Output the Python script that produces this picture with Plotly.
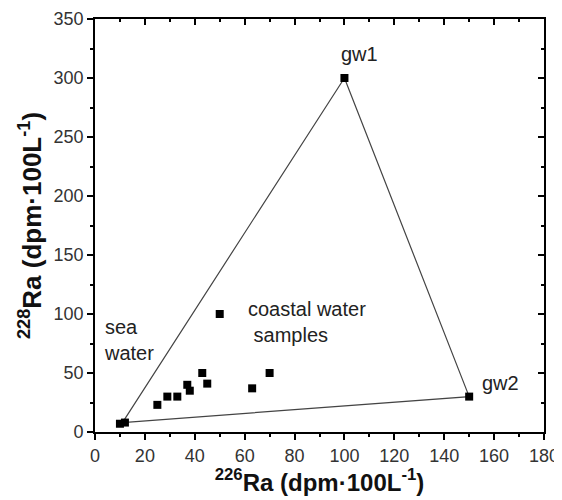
import plotly.graph_objects as go

# coastal water samples
sample_ra226 = [25, 29, 33, 37, 38, 43, 45, 50, 63, 70]
sample_ra228 = [23, 30, 30, 40, 35, 50, 41, 100, 37, 50]

# end-members
end_names = ["sea water", "sea water", "gw1", "gw2"]
end_ra226 = [10, 12, 100, 150]
end_ra228 = [7, 8, 300, 30]

# mixing triangle vertices (sea water -> gw1 -> gw2 -> sea water)
tri_ra226 = [11, 100, 150, 11]
tri_ra228 = [8, 300, 30, 8]

x_ticks = list(range(0, 181, 20))
y_ticks = list(range(0, 351, 50))

fig = go.Figure()

fig.add_trace(go.Scatter(x=tri_ra226, y=tri_ra228, mode="lines",
                         line=dict(color="#444444", width=1.2),
                         showlegend=False, hoverinfo="skip"))
fig.add_trace(go.Scatter(x=end_ra226, y=end_ra228, mode="markers",
                         marker=dict(symbol="square", size=8, color="black"),
                         showlegend=False, text=end_names))
fig.add_trace(go.Scatter(x=sample_ra226, y=sample_ra228, mode="markers",
                         marker=dict(symbol="square", size=8, color="black"),
                         showlegend=False))
# invisible trace to activate mirrored top/right axes
fig.add_trace(go.Scatter(x=end_ra226, y=end_ra228, mode="markers",
                         marker=dict(opacity=0), xaxis="x2", yaxis="y2",
                         showlegend=False, hoverinfo="skip"))

font_fam = "Liberation Sans, Arial, sans-serif"
ann_font = dict(family=font_fam, size=20, color="#222222")

fig.add_annotation(x=100, y=300, text="gw1", showarrow=False, xanchor="left",
                   xshift=-5, yshift=24, font=ann_font)
fig.add_annotation(x=150, y=30, text="gw2", showarrow=False, xanchor="left",
                   xshift=11, yshift=14, font=ann_font)
fig.add_annotation(x=2.8, y=78, text="sea<br>water", showarrow=False, xanchor="left",
                   yanchor="middle", align="left", font=ann_font)
fig.add_annotation(x=60.5, y=93.5, text="coastal water<br> samples", showarrow=False,
                   xanchor="left", align="left", yanchor="middle", font=ann_font)

axis_common = dict(showline=True, linecolor="black", linewidth=1.8, showgrid=False,
                   zeroline=False, tickcolor="black", tickwidth=1.5, automargin=False)

fig.update_layout(
    width=554, height=492,
    margin=dict(l=87, r=18, t=11, b=68),
    plot_bgcolor="white", paper_bgcolor="white",
    font=dict(family=font_fam, size=18, color="#333333"),
    xaxis=dict(range=[0, 180], tickvals=x_ticks, ticks="outside", ticklen=6,
               minor=dict(dtick=10, ticks="outside", ticklen=3, tickcolor="black", tickwidth=1.5),
               title=dict(text="<b><sup>226</sup>Ra (dpm·100L<sup>-1</sup>)</b>",
                          font=dict(size=24, color="#111111"), standoff=2),
               **axis_common),
    yaxis=dict(range=[0, 350], tickvals=y_ticks, ticks="outside", ticklen=6,
               minor=dict(dtick=25, ticks="outside", ticklen=3, tickcolor="black", tickwidth=1.5),
               title=dict(text="<b><sup>228</sup>Ra (dpm·100L<sup>-1</sup>)</b>",
                          font=dict(size=26, color="#111111"), standoff=4),
               **axis_common),
    xaxis2=dict(range=[0, 180], overlaying="x", side="top", anchor="y2", matches="x",
                tickvals=x_ticks, ticks="inside", ticklen=6, showticklabels=False,
                minor=dict(dtick=10, ticks="inside", ticklen=3, tickcolor="black", tickwidth=1.5),
                **axis_common),
    yaxis2=dict(range=[0, 350], overlaying="y", side="right", anchor="x2", matches="y",
                tickvals=y_ticks, ticks="inside", ticklen=6, showticklabels=False,
                minor=dict(dtick=25, ticks="inside", ticklen=3, tickcolor="black", tickwidth=1.5),
                **axis_common),
)

fig.write_html("out.html")
